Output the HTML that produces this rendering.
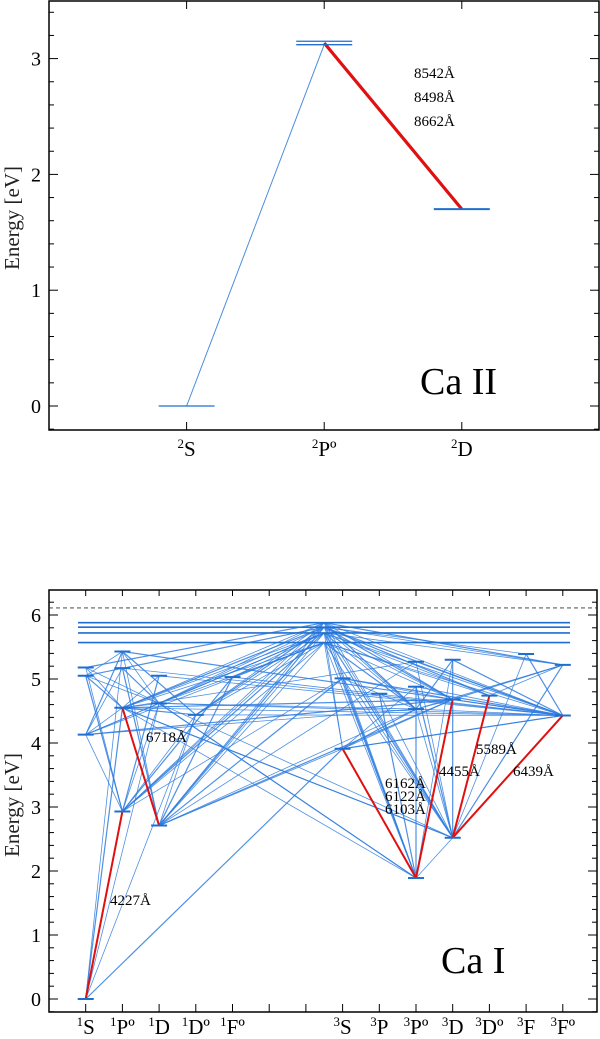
<!DOCTYPE html>
<html><head><meta charset="utf-8"><style>
html,body{margin:0;padding:0;background:#fff;}
svg{display:block;font-family:"Liberation Serif",serif;}
</style></head><body>
<svg id="chart" width="600" height="1039" viewBox="0 0 600 1039" xmlns="http://www.w3.org/2000/svg"></svg>
<script>
// ---- Ca II data ----
const caIISup = ["2","2","2"];
const caIITerm = ["S","Pº","D"];
const caIILevels = [[0,0.00],[1,3.12],[1,3.15],[2,1.70]];
const caIIBlue = [[0,1]];
const caIIRed = [[2,3]];
const caIILabels = ["8542Å","8498Å","8662Å"];
const caIIYTicks = [0,1,2,3];
// ---- Ca I data ----
const caISup  = ["1","1","1","1","1","","","3","3","3","3","3","3","3"];
const caITerm = ["S","Pº","D","Dº","Fº","","","S","P","Pº","D","Dº","F","Fº"];
const caILevelCat = [1,1,1,1, 2,2,2,2, 3,3,3, 4, 5, 8,8, 9, 10,10,10,10, 11,11,11, 12, 13, 14,14, 7.5,7.5,7.5,7.5];
const caILevelE   = [0,4.13,5.05,5.18, 2.93,4.55,5.17,5.43, 2.71,4.62,5.05, 4.44, 5.03, 3.91,5.01, 4.77, 1.89,4.53,4.88,5.27, 2.52,4.68,5.30, 4.74, 5.39, 4.43,5.22, 5.57,5.72,5.81,5.88];
const caIRed = [[0,4],[5,8],[13,16],[16,21],[20,23],[20,25]];
const caIBlue = [[0,5],[0,7],[0,11],[0,13],[0,9],
[4,1],[4,2],[4,3],[4,9],[4,10],[4,11],[4,27],[4,28],[4,29],[4,30],[4,12],[4,14],
[8,5],[8,6],[8,7],[8,11],[8,12],[8,27],[8,28],[8,29],[8,30],[8,13],[8,14],[8,17],[8,19],[8,21],
[1,5],[1,6],[1,7],[1,9],[1,17],[1,21],[1,27],[1,28],[2,5],[2,7],[2,9],[2,29],[3,5],[3,9],[3,30],
[5,9],[5,10],[5,11],[5,27],[5,28],[5,29],[5,30],[5,20],[5,21],[5,19],[5,25],
[9,6],[9,7],[9,27],[9,28],[9,29],[9,30],[9,16],[9,17],[9,25],
[11,7],[11,27],[11,28],[11,29],[11,30],[11,25],[12,27],[12,28],[12,25],
[16,13],[16,14],[16,27],[16,28],[16,29],[16,30],[16,15],[16,20],[16,5],[16,18],[16,22],[16,9],
[13,17],[13,18],[13,21],[13,25],[13,27],[13,28],
[17,27],[17,28],[17,29],[17,30],[17,14],[17,21],[17,22],[17,26],
[20,17],[20,18],[20,19],[20,27],[20,28],[20,29],[20,30],[20,22],[20,15],[20,24],[20,26],[20,14],[20,9],[20,5],
[21,27],[21,28],[21,29],[21,30],[21,14],[21,26],
[25,27],[25,28],[25,29],[25,30],[25,19],[25,22],[25,21],[25,18],[25,24],[25,17],[25,13],[25,7],[25,6],[25,10],[25,14],
[23,27],[23,28],[23,29],[23,26],[26,29],[26,30],[26,28],[24,29]];
const caIYTicks = [0,1,2,3,4,5,6];
const caIIonization = 6.11;

const NS="http://www.w3.org/2000/svg";
const svg=document.getElementById('chart');
function mk(tag,attrs,parent){const e=document.createElementNS(NS,tag);for(const k in attrs)e.setAttribute(k,attrs[k]);(parent||svg).appendChild(e);return e;}
function termLabel(parent,x,y,sup,term,name){
 const t=mk('text',{x:x,y:y,'text-anchor':'middle','font-size':21},parent);
 
 
 const s=mk('tspan',{'font-size':13,dy:-8},t);s.textContent=sup;
 const m=mk('tspan',{dy:8},t);m.textContent=term;
}

// ---------- Top: Ca II ----------
const T={L:49,R:599,top:1,bot:430,cx0:49,cdx:137.6,y0:406,ys:115.8};
const tx=c=>T.cx0+(c+1)*T.cdx, ty=e=>T.y0-e*T.ys;
const g1=mk('g',{});


const f1=mk('rect',{x:T.L,y:T.top,width:T.R-T.L,height:T.bot-T.top,fill:'none',stroke:'#000','stroke-width':1.5},g1);


for(let v=-0.2;v<=3.5;v+=0.2){const y=ty(+v.toFixed(1));const maj=Math.abs(v-Math.round(v))<0.01;const l=maj?9:5;
 mk('line',{x1:T.L,x2:T.L+l,y1:y,y2:y,stroke:'#000'},g1);mk('line',{x1:T.R-l,x2:T.R,y1:y,y2:y,stroke:'#000'},g1);}
caIIYTicks.forEach(v=>{const t=mk('text',{x:41,y:ty(v)+7,'text-anchor':'end','font-size':20},g1);t.textContent=v;
 
 });
caIITerm.forEach((c,i)=>{const x=tx(i);mk('line',{x1:x,x2:x,y1:T.bot,y2:T.bot-8,stroke:'#000'},g1);mk('line',{x1:x,x2:x,y1:T.top,y2:T.top+8,stroke:'#000'},g1);
 termLabel(g1,x,456,caIISup[i],c,'ca-ii-term-label');});
const yt1=mk('text',{x:0,y:0,transform:`translate(19,218) rotate(-90)`,'text-anchor':'middle','font-size':21,fill:'#222'},g1);yt1.textContent='Energy [eV]';


caIIBlue.forEach(p=>{const a=caIILevels[p[0]],b=caIILevels[p[1]];const l=mk('line',{x1:tx(a[0]),y1:ty(a[1]),x2:tx(b[0]),y2:ty(b[1]),stroke:'#4a8ee0','stroke-width':1},g1);
 
 });
caIIRed.forEach(p=>{const a=caIILevels[p[0]],b=caIILevels[p[1]];const l=mk('line',{x1:tx(a[0]),y1:ty((a[1]+caIILevels[1][1])/2),x2:tx(b[0]),y2:ty(b[1]),stroke:'#e01010','stroke-width':3.2},g1);
 
 });
caIILevels.forEach(l=>{const x=tx(l[0]);const e=mk('line',{x1:x-28,x2:x+28,y1:ty(l[1]),y2:ty(l[1]),stroke:'#1f6fd0','stroke-width':l[0]==2?2:1.3},g1);
 
 });
caIILabels.forEach((s,i)=>{const t=mk('text',{x:414,y:78+i*24,'font-size':15},g1);t.textContent=s;
 
 });
const ct1=mk('text',{x:420,y:394,'font-size':38},g1);ct1.textContent='Ca II';



// ---------- Bottom: Ca I ----------
const B={L:49,R:597,top:590,bot:1012,cx0:49,cdx:36.7,y0:999,ys:64};
const bx=c=>B.cx0+c*B.cdx, by=e=>B.y0-e*B.ys;
const g2=mk('g',{});


const f2=mk('rect',{x:B.L,y:B.top,width:B.R-B.L,height:B.bot-B.top,fill:'none',stroke:'#000','stroke-width':1.5},g2);


for(let v=-0.2;v<=6.3;v+=0.2){const y=by(+v.toFixed(1));const maj=Math.abs(v-Math.round(v))<0.01;const l=maj?9:5;
 mk('line',{x1:B.L,x2:B.L+l,y1:y,y2:y,stroke:'#000'},g2);mk('line',{x1:B.R-l,x2:B.R,y1:y,y2:y,stroke:'#000'},g2);}
caIYTicks.forEach(v=>{const t=mk('text',{x:41,y:by(v)+7,'text-anchor':'end','font-size':20},g2);t.textContent=v;
 
 });
caITerm.forEach((c,i)=>{const x=bx(i+1);mk('line',{x1:x,x2:x,y1:B.bot,y2:B.bot-8,stroke:'#000'},g2);mk('line',{x1:x,x2:x,y1:B.top,y2:B.top+6,stroke:'#000'},g2);
 if(c){termLabel(g2,x,1034,caISup[i],c,'ca-i-term-label');}});
const yt2=mk('text',{x:0,y:0,transform:`translate(19,805) rotate(-90)`,'text-anchor':'middle','font-size':21,fill:'#222'},g2);yt2.textContent='Energy [eV]';


const dl=mk('line',{x1:B.L,x2:B.R,y1:by(caIIonization),y2:by(caIIonization),stroke:'#333','stroke-dasharray':'4,3','stroke-width':0.8},g2);


caIBlue.forEach((p,k)=>{const a=p[0],b=p[1];const l=mk('line',{x1:bx(caILevelCat[a]),y1:by(caILevelE[a]),x2:bx(caILevelCat[b]),y2:by(caILevelE[b]),stroke:'#2f7ddf','stroke-width':k%3==0?1.2:0.8,'stroke-opacity':0.85},g2);
 
 });
caIRed.forEach(p=>{const a=p[0],b=p[1];const l=mk('line',{x1:bx(caILevelCat[a]),y1:by(caILevelE[a]),x2:bx(caILevelCat[b]),y2:by(caILevelE[b]),stroke:'#e01010','stroke-width':2},g2);
 
 });
caILevelE.forEach((e,i)=>{const c=caILevelCat[i];const hi=c==7.5;const x1=hi?78:bx(c)-8,x2=hi?570:bx(c)+8;
 const l=mk('line',{x1:x1,x2:x2,y1:by(e),y2:by(e),stroke:'#1f6fd0','stroke-width':hi?1.6:2},g2);
 
 });
const caILabelText=["6718Å","4227Å","6162Å","6122Å","6103Å","4455Å","5589Å","6439Å"];
const caILabelPos=[[146,742],[110,905],[385,788],[385,801],[385,814],[439,776],[476,754],[513,776]];
caILabelText.forEach((s,i)=>{const t=mk('text',{x:caILabelPos[i][0],y:caILabelPos[i][1],'font-size':15},g2);t.textContent=s;
 
 });
const ct2=mk('text',{x:441,y:973,'font-size':38},g2);ct2.textContent='Ca I';


</script>
</body></html>
